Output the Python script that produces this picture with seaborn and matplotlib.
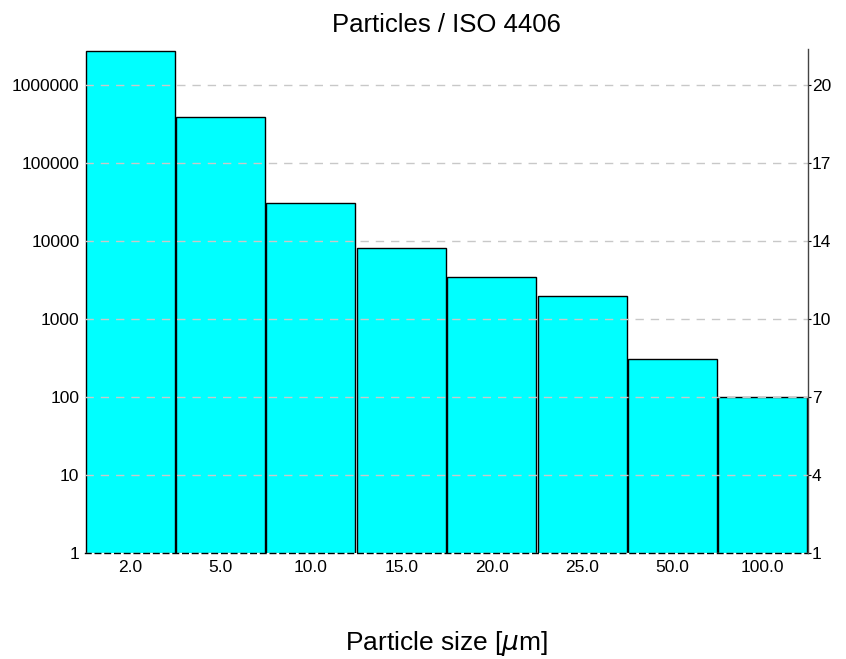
import matplotlib
matplotlib.use("Agg")
import matplotlib.pyplot as plt
import seaborn as sns
import pandas as pd

# ── Data ──
sizes = ["2.0", "5.0", "10.0", "15.0", "20.0", "25.0", "50.0", "100.0"]
counts = [2750000, 390000, 30500, 8000, 3400, 1950, 305, 100]
left_ticks = [1, 10, 100, 1000, 10000, 100000, 1000000]
left_labels = ["1", "10", "100", "1000", "10000", "100000", "1000000"]
iso_codes = ["1", "4", "7", "10", "14", "17", "20"]

df = pd.DataFrame({"size": sizes, "count": counts})

sns.set_style("white")
plt.rcParams["font.family"] = ["Liberation Sans", "DejaVu Sans"]
plt.rcParams["text.color"] = "black"
plt.rcParams["axes.labelcolor"] = "black"

fig = plt.figure(figsize=(8.46, 6.59), dpi=100)
ax = fig.add_axes([0.1005, 0.161, 0.8545, 0.765])

sns.barplot(data=df, x="size", y="count", color="#00ffff", saturation=1,
            width=0.985, edgecolor="black", linewidth=1.0, ax=ax, zorder=2)
ax.set_yscale("log")
ax.set_ylim(1, 2.9e6)
ax.set_xlim(-0.5, len(sizes) - 0.5)

ax.set_yticks(left_ticks)
ax.set_yticklabels(left_labels)
ax.minorticks_off()
# grid sits on top of the bars, as in the original
ax.set_axisbelow(False)
ax.yaxis.grid(True, linestyle=(0, (6, 5)), color="#c8c8c8", linewidth=1.0)

ax.tick_params(axis="both", length=0, labelsize=12.5, colors="black", pad=4)
ax.tick_params(axis="x", pad=5)
for s in ["top", "left", "right"]:
    ax.spines[s].set_visible(False)
ax.spines["bottom"].set_linestyle((0, (4, 3)))
ax.spines["bottom"].set_color("black")
ax.spines["bottom"].set_linewidth(1.0)
ax.spines["bottom"].set_zorder(4)

ax.set_xlabel("Particle size [$\\mu$m]", fontsize=19, labelpad=39, color="black")
ax.set_ylabel("")
ax.set_title("Particles / ISO 4406", fontsize=18.5, pad=12, color="black")

# ISO code axis on the right
ax2 = ax.twinx()
ax2.set_yscale("log")
ax2.set_ylim(ax.get_ylim())
ax2.set_yticks(left_ticks)
ax2.set_yticklabels(iso_codes)
ax2.minorticks_off()
ax2.tick_params(axis="y", length=2, labelsize=12.5, colors="black", pad=1)
for s in ["top", "left", "bottom"]:
    ax2.spines[s].set_visible(False)
ax2.spines["right"].set_color("#444444")
ax2.spines["right"].set_linewidth(1.0)

plt.savefig("out.png", dpi=100)
plt.close()
